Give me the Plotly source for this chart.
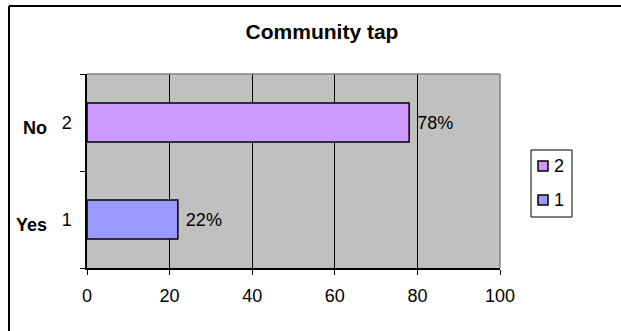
import plotly.graph_objects as go

# Survey responses: community tap use
categories = ["1", "2"]
answers = ["Yes", "No"]
percent = [22, 78]
bar_colors = ["#9999ff", "#cc99ff"]
x_ticks = [0, 20, 40, 60, 80, 100]

W, H = 621, 331
L, R, T, B = 87, 500, 74, 268  # plot area edges in pixels
FONT = "Liberation Sans"

fig = go.Figure()
for cat, val, col in zip(categories, percent, bar_colors):
    fig.add_trace(go.Bar(
        y=[cat], x=[val], orientation="h", name=cat,
        marker=dict(color=col, line=dict(color="black", width=1.5)),
        text=[f" {val}%"], textposition="outside",
        textfont=dict(family=FONT, size=18, color="black"),
        cliponaxis=False, showlegend=False,
    ))

pw, ph = R - L, B - T


def px_x(p):
    return (p - L) / pw


def px_y(p):
    return (B - p) / ph


# Outer chart frame
fig.add_shape(type="line", xref="paper", yref="paper",
              x0=px_x(9), x1=px_x(W + 5), y0=px_y(6), y1=px_y(6),
              line=dict(color="black", width=2))
fig.add_shape(type="line", xref="paper", yref="paper",
              x0=px_x(9), x1=px_x(9), y0=px_y(6), y1=px_y(H + 5),
              line=dict(color="black", width=2))
# Top and right edges of the plot area
fig.add_shape(type="line", xref="paper", yref="paper",
              x0=0, x1=1, y0=1, y1=1, line=dict(color="#808080", width=1.5))
fig.add_shape(type="line", xref="paper", yref="paper",
              x0=1, x1=1, y0=0, y1=1, line=dict(color="#808080", width=1.5))

# Bold answer names beside the category numbers
for i, ans in enumerate(answers):
    fig.add_annotation(x=px_x(49), y=i, xref="paper", yref="y",
                       text=f"<b>{ans}</b>", showarrow=False, xanchor="right",
                       yshift=-5,
                       font=dict(family=FONT, size=18, color="black"))

# Legend box with one swatch per series, top entry is the last series
fig.add_shape(type="rect", xref="paper", yref="paper",
              x0=px_x(531), x1=px_x(572), y0=px_y(150), y1=px_y(217),
              line=dict(color="black", width=1), fillcolor="white")
item_y = [200, 166]
for cat, col, yy in zip(categories, bar_colors, item_y):
    fig.add_shape(type="rect", xref="paper", yref="paper",
                  x0=px_x(538), x1=px_x(548), y0=px_y(yy - 5), y1=px_y(yy + 5),
                  line=dict(color="black", width=1.5), fillcolor=col)
    fig.add_annotation(x=px_x(552), y=px_y(yy), xref="paper", yref="paper",
                       text=cat, showarrow=False, xanchor="left",
                       yanchor="middle",
                       font=dict(family=FONT, size=18, color="black"))

fig.update_layout(
    width=W, height=H,
    margin=dict(l=L, r=W - R, t=T, b=H - B),
    paper_bgcolor="white", plot_bgcolor="#c0c0c0",
    barmode="overlay", bargap=0.6,
    title=dict(text="<b>Community tap</b>", x=px_x(322), xanchor="center",
               xref="paper", y=1 - 32 / H, yanchor="middle",
               font=dict(family=FONT, size=21, color="black")),
    font=dict(family=FONT, size=18, color="black"),
    xaxis=dict(range=[0, 100], tickvals=x_ticks, showgrid=True,
               gridcolor="black", gridwidth=1, showline=True,
               linecolor="black", linewidth=1.5, ticks="outside",
               ticklen=5, tickcolor="black", zeroline=False,
               ticklabelstandoff=6, fixedrange=True),
    yaxis=dict(type="category", categoryorder="array",
               categoryarray=categories, range=[-0.5, 1.5],
               showgrid=False, showline=True,
               linecolor="black", linewidth=1.5, ticks="outside",
               tickson="boundaries", ticklen=5, tickcolor="black",
               ticklabelstandoff=10, zeroline=False, fixedrange=True),
    showlegend=False,
)

fig.write_html("out.html")
